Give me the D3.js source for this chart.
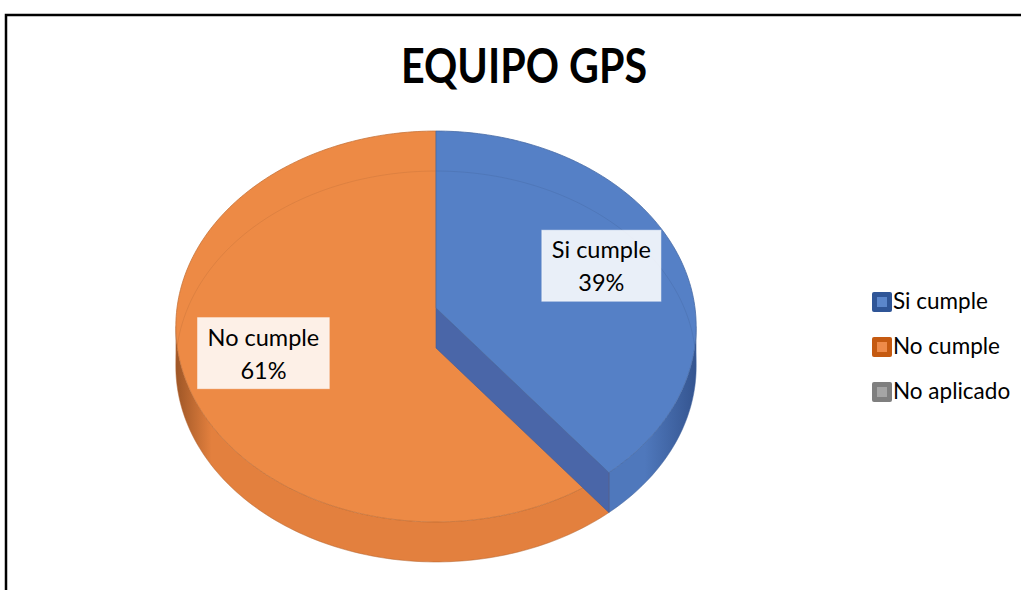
<!DOCTYPE html>
<html>
<head>
<meta charset="utf-8">
<script src="https://cdn.jsdelivr.net/npm/d3@7"></script>
<style>
  body { margin: 0; background: #fff; }
  text { font-family: Lato, "Open Sans", sans-serif; }
</style>
</head>
<body>
<div id="chart"></div>
<script>
// data
var categories = ["Si cumple", "No cumple", "No aplicado"];
var values = [39.4, 60.6, 0];
var title = "EQUIPO GPS";

var topColors = ["#5580C6", "#ED8A45", "#A5A5A5"];
var wallLight = ["#4F78BC", "#E3803E", "#999999"];
var wallDark = ["#34548F", "#9C5526", "#666666"];
var legendDark = ["#2F5597", "#C55A11", "#7F7F7F"];
var legendInner = ["#5B86CB", "#EE8B4A", "#A5A5A5"];

var width = 1021, height = 590;

var svg = d3.select("#chart").append("svg")
  .attr("width", width)
  .attr("height", height);

// frame
svg.append("rect")
  .attr("x", 6).attr("y", 15)
  .attr("width", 1100).attr("height", 700)
  .attr("fill", "none")
  .attr("stroke", "#000")
  .attr("stroke-width", 2.5);

svg.append("text")
  .attr("x", 524).attr("y", 83)
  .attr("text-anchor", "middle")
  .attr("font-size", 48)
  .attr("font-weight", "bold")
  .attr("textLength", 246)
  .attr("lengthAdjust", "spacingAndGlyphs")
  .attr("fill", "#000")
  .text(title);

// perspective disc
var cx = 436, cy = 308, A = 259, B = 193.7, k = 0.0946, depth = 40;

function proj(a, f, z) {
  f = f == null ? 1 : f;
  var u = Math.sin(a) * f, v = Math.cos(a) * f;
  var w = 1 + k * v;
  return [cx + A * u / w, cy - B * v / w + (z || 0)];
}

function rim(a0, a1, z) {
  var n = Math.max(2, Math.ceil(Math.abs(a1 - a0) / 0.02));
  return d3.range(n + 1).map(function(i) { return proj(a0 + (a1 - a0) * i / n, 1, z); });
}

var line = d3.line();

var pie = d3.pie().sort(null).value(function(d) { return d; });
var arcs = pie(values);

var defs = svg.append("defs");
arcs.forEach(function(d, i) {
  var g = defs.append("linearGradient")
    .attr("id", "wall" + i)
    .attr("gradientUnits", "userSpaceOnUse")
    .attr("x1", cx - A - 2).attr("x2", cx + A + 2)
    .attr("y1", 0).attr("y2", 0);
  [[0, wallDark[i]], [0.07, wallLight[i]], [0.5, wallLight[i]], [0.9, wallLight[i]], [1, wallDark[i]]]
    .forEach(function(s) { g.append("stop").attr("offset", s[0]).attr("stop-color", s[1]); });
});

var lo = Math.acos(-k), hi = 2 * Math.PI - lo;

// outer side walls (front half only)
arcs.forEach(function(d, i) {
  if (d.endAngle - d.startAngle <= 0) return;
  var a0 = Math.max(d.startAngle, lo), a1 = Math.min(d.endAngle, hi);
  if (a1 <= a0) return;
  var pts = rim(a0, a1, 0).concat(rim(a1, a0, depth));
  svg.append("path")
    .attr("d", line(pts) + "Z")
    .attr("fill", "url(#wall" + i + ")")
    .attr("stroke", wallDark[i])
    .attr("stroke-opacity", 0.4)
    .attr("stroke-width", 0.6);
});

function topFace(d, i) {
  var pts = [proj(0, 0, 0)].concat(rim(d.startAngle, d.endAngle, 0));
  svg.append("path")
    .attr("d", line(pts) + "Z")
    .attr("fill", topColors[i])
    .attr("stroke", d3.color(topColors[i]).darker(0.5))
    .attr("stroke-width", 0.8);
}

function bottomLine(d, i) {
  svg.append("path")
    .attr("d", line(rim(d.startAngle, d.endAngle, depth)))
    .attr("fill", "none")
    .attr("stroke", d3.color(topColors[i]).darker(0.6))
    .attr("stroke-opacity", 0.35)
    .attr("stroke-width", 1);
}

// orange top first, then the blue cut face and blue top over it
topFace(arcs[1], 1);
bottomLine(arcs[1], 1);

var e = arcs[0].endAngle;
var face = [proj(e, 0, 0), proj(e, 1, 0), proj(e, 1, depth), proj(e, 0, depth)];
svg.append("path")
  .attr("d", line(face) + "Z")
  .attr("fill", "#4A66A8")
  .attr("stroke", "#3F5A98")
  .attr("stroke-width", 0.6);

topFace(arcs[0], 0);
bottomLine(arcs[0], 0);

// data labels
var labelFrac = 0.69;
arcs.forEach(function(d, i) {
  if (d.value <= 0) return;
  var mid = (d.startAngle + d.endAngle) / 2;
  var p = proj(mid, labelFrac, 0);
  var g = svg.append("g").attr("transform", "translate(" + p[0] + "," + p[1] + ")");
  var box = g.append("rect").attr("fill", "#fff").attr("fill-opacity", 0.87)
    .attr("stroke", "#fff").attr("stroke-opacity", 0.5);
  var t1 = g.append("text").attr("text-anchor", "middle").attr("y", -7)
    .attr("font-size", 23.5).attr("fill", "#000").text(categories[i]);
  var t2 = g.append("text").attr("text-anchor", "middle").attr("y", 26)
    .attr("font-size", 23.5).attr("fill", "#000")
    .text(Math.round(d.value / d3.sum(values) * 100) + "%");
  var w = Math.max(t1.node().getComputedTextLength(), t2.node().getComputedTextLength()) + 20;
  box.attr("x", -w / 2).attr("y", -35).attr("width", w).attr("height", 71);
});

// legend
var legend = svg.append("g").attr("transform", "translate(872,302)");
var row = legend.selectAll("g").data(categories).enter().append("g")
  .attr("transform", function(d, i) { return "translate(0," + i * 45 + ")"; });
row.append("rect")
  .attr("x", 0).attr("y", -10).attr("width", 20).attr("height", 20).attr("rx", 2)
  .attr("fill", function(d, i) { return legendDark[i]; });
row.append("rect")
  .attr("x", 5).attr("y", -5).attr("width", 10).attr("height", 10)
  .attr("fill", function(d, i) { return legendInner[i]; });
row.append("text")
  .attr("x", 21).attr("y", 7)
  .attr("font-size", 22.5)
  .attr("fill", "#000")
  .text(function(d) { return d; });
</script>
</body>
</html>
